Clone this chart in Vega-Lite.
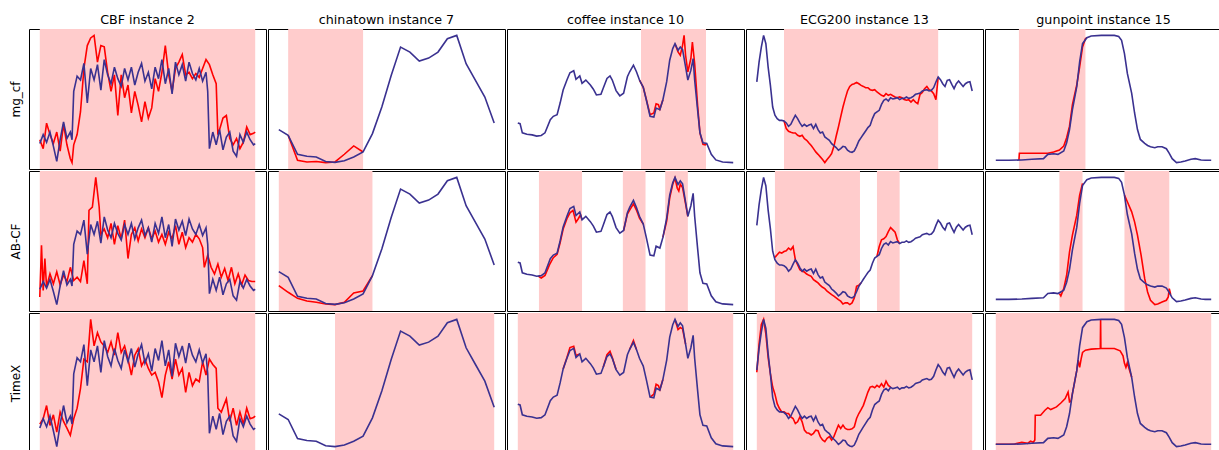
{
"$schema":"https://vega.github.io/schema/vega-lite/v6.json",
"padding":{"left":8,"top":13,"right":0,"bottom":0},
"background":"white",
"config":{"view":{"stroke":"#000","strokeWidth":1},"axis":{"labels":false,"ticks":false,"domain":false,"grid":false,"titleFont":"DejaVu Sans","titleFontSize":12,"titleFontWeight":"normal","titleColor":"#000","titlePadding":7},"title":{"font":"DejaVu Sans","fontSize":12.7,"fontWeight":"normal","color":"#000","offset":2}},
"datasets":{
"shade":[{"p":"cbf1","a":0,"b":127},{"p":"cbf2","a":0,"b":127},{"p":"cbf3","a":0,"b":127},{"p":"ct1","a":1,"b":9},{"p":"ct2","a":0,"b":10},{"p":"ct3","a":6,"b":23},{"p":"cf1","a":163,"b":249},{"p":"cf2","a":28,"b":85},{"p":"cf2","a":139,"b":169},{"p":"cf2","a":195,"b":225},{"p":"cf3","a":0,"b":285},{"p":"ecg1","a":12,"b":80},{"p":"ecg2","a":8,"b":45.5},{"p":"ecg2","a":53,"b":63},{"p":"ecg3","a":0,"b":95},{"p":"gp1","a":16,"b":62},{"p":"gp2","a":44,"b":60},{"p":"gp2","a":89,"b":120},{"p":"gp3","a":0,"b":149}],
"cbf_b":[{"t":0,"v":1.5},{"t":2,"v":2.2},{"t":4,"v":1.6},{"t":6,"v":2.4},{"t":8,"v":1.3},{"t":10,"v":0.1},{"t":12,"v":1.8},{"t":14,"v":3.2},{"t":16,"v":1.9},{"t":18,"v":2.4},{"t":19,"v":1.8},{"t":20,"v":5.6},{"t":22,"v":6.8},{"t":24,"v":6.5},{"t":26,"v":7.8},{"t":28,"v":4.7},{"t":30,"v":7.4},{"t":32,"v":6.5},{"t":34,"v":7.7},{"t":36,"v":5.7},{"t":38,"v":8.1},{"t":40,"v":6.9},{"t":42,"v":6.2},{"t":44,"v":7.5},{"t":46,"v":6.6},{"t":48,"v":6.0},{"t":50,"v":7.4},{"t":52,"v":6.5},{"t":54,"v":7.5},{"t":56,"v":6.1},{"t":58,"v":7.1},{"t":60,"v":7.8},{"t":62,"v":6.4},{"t":64,"v":7.1},{"t":66,"v":5.8},{"t":68,"v":7.5},{"t":70,"v":6.6},{"t":72,"v":8.1},{"t":74,"v":6.2},{"t":76,"v":7.4},{"t":78,"v":5.4},{"t":80,"v":7.9},{"t":82,"v":6.9},{"t":84,"v":7.7},{"t":86,"v":6.4},{"t":88,"v":7.9},{"t":90,"v":7.0},{"t":92,"v":6.5},{"t":94,"v":7.4},{"t":96,"v":6.4},{"t":98,"v":7.1},{"t":99,"v":5.6},{"t":100,"v":1.1},{"t":102,"v":2.4},{"t":104,"v":1.4},{"t":106,"v":2.6},{"t":108,"v":1.0},{"t":110,"v":2.0},{"t":112,"v":2.4},{"t":114,"v":0.9},{"t":116,"v":0.5},{"t":118,"v":2.2},{"t":120,"v":1.6},{"t":122,"v":2.4},{"t":124,"v":1.8},{"t":126,"v":1.4},{"t":127,"v":1.5}],
"cbf_r1":[{"t":0,"v":1.8},{"t":2,"v":1.1},{"t":4,"v":3.1},{"t":6,"v":2.2},{"t":8,"v":1.5},{"t":10,"v":2.4},{"t":12,"v":0.9},{"t":14,"v":3.0},{"t":16,"v":1.4},{"t":18,"v":0.3},{"t":19,"v":0.0},{"t":20,"v":1.4},{"t":22,"v":2.2},{"t":24,"v":4.0},{"t":26,"v":7.4},{"t":28,"v":9.2},{"t":30,"v":9.8},{"t":32,"v":10.0},{"t":34,"v":7.9},{"t":36,"v":9.2},{"t":38,"v":9.1},{"t":40,"v":7.1},{"t":42,"v":5.6},{"t":44,"v":6.9},{"t":46,"v":3.7},{"t":48,"v":6.9},{"t":50,"v":5.1},{"t":52,"v":6.1},{"t":54,"v":3.9},{"t":56,"v":5.6},{"t":58,"v":4.5},{"t":60,"v":3.2},{"t":62,"v":4.8},{"t":64,"v":3.5},{"t":66,"v":4.3},{"t":68,"v":6.6},{"t":70,"v":5.6},{"t":72,"v":7.1},{"t":74,"v":9.2},{"t":76,"v":6.9},{"t":78,"v":5.6},{"t":80,"v":7.4},{"t":82,"v":7.9},{"t":84,"v":8.5},{"t":86,"v":6.9},{"t":88,"v":7.1},{"t":90,"v":6.6},{"t":92,"v":7.0},{"t":94,"v":6.7},{"t":96,"v":7.4},{"t":98,"v":8.1},{"t":100,"v":7.7},{"t":102,"v":6.9},{"t":104,"v":6.2},{"t":105,"v":2.2},{"t":106,"v":2.6},{"t":108,"v":3.5},{"t":110,"v":3.7},{"t":112,"v":1.9},{"t":114,"v":1.4},{"t":116,"v":1.9},{"t":118,"v":1.1},{"t":120,"v":1.6},{"t":122,"v":2.8},{"t":124,"v":2.2},{"t":126,"v":2.3},{"t":127,"v":2.4}],
"cbf_r2":[{"t":0,"v":0.8},{"t":1,"v":5.5},{"t":2,"v":1.4},{"t":3,"v":4.3},{"t":4,"v":1.7},{"t":6,"v":2.9},{"t":8,"v":2.0},{"t":10,"v":3.1},{"t":12,"v":1.9},{"t":14,"v":2.8},{"t":16,"v":2.2},{"t":18,"v":3.5},{"t":20,"v":2.3},{"t":22,"v":2.6},{"t":24,"v":2.2},{"t":26,"v":4.1},{"t":28,"v":2.0},{"t":29,"v":8.7},{"t":31,"v":9.0},{"t":33,"v":11.7},{"t":35,"v":9.0},{"t":36,"v":6.5},{"t":38,"v":7.0},{"t":40,"v":6.2},{"t":42,"v":7.5},{"t":44,"v":5.6},{"t":46,"v":7.3},{"t":48,"v":6.1},{"t":50,"v":7.8},{"t":52,"v":4.3},{"t":54,"v":6.5},{"t":56,"v":7.1},{"t":58,"v":5.9},{"t":60,"v":7.0},{"t":62,"v":6.2},{"t":64,"v":7.1},{"t":66,"v":6.1},{"t":68,"v":6.8},{"t":70,"v":5.8},{"t":72,"v":6.5},{"t":74,"v":5.6},{"t":76,"v":6.7},{"t":78,"v":6.1},{"t":80,"v":7.3},{"t":82,"v":5.6},{"t":84,"v":6.7},{"t":86,"v":5.3},{"t":88,"v":6.2},{"t":90,"v":5.8},{"t":92,"v":6.5},{"t":94,"v":6.1},{"t":96,"v":5.3},{"t":97,"v":3.5},{"t":99,"v":4.6},{"t":101,"v":3.5},{"t":103,"v":2.9},{"t":105,"v":3.8},{"t":107,"v":2.6},{"t":109,"v":3.4},{"t":111,"v":2.3},{"t":113,"v":3.5},{"t":115,"v":2.0},{"t":117,"v":2.9},{"t":119,"v":1.9},{"t":121,"v":2.8},{"t":123,"v":2.3},{"t":125,"v":2.2},{"t":127,"v":2.2}],
"cbf_r3":[{"t":0,"v":1.8},{"t":2,"v":2.2},{"t":4,"v":3.2},{"t":6,"v":1.7},{"t":8,"v":2.5},{"t":10,"v":1.2},{"t":12,"v":2.7},{"t":14,"v":2.0},{"t":16,"v":1.5},{"t":18,"v":0.95},{"t":20,"v":2.2},{"t":22,"v":3.0},{"t":24,"v":4.5},{"t":26,"v":6.7},{"t":28,"v":6.5},{"t":29,"v":8.0},{"t":30,"v":9.7},{"t":32,"v":7.7},{"t":34,"v":8.7},{"t":36,"v":8.0},{"t":38,"v":7.7},{"t":40,"v":7.2},{"t":42,"v":8.0},{"t":44,"v":7.0},{"t":46,"v":8.7},{"t":48,"v":7.2},{"t":50,"v":7.7},{"t":52,"v":6.7},{"t":54,"v":5.5},{"t":56,"v":7.0},{"t":58,"v":7.5},{"t":60,"v":6.2},{"t":62,"v":6.7},{"t":64,"v":6.0},{"t":66,"v":5.5},{"t":68,"v":5.7},{"t":70,"v":5.0},{"t":72,"v":3.8},{"t":74,"v":5.5},{"t":76,"v":6.5},{"t":78,"v":5.2},{"t":80,"v":6.7},{"t":82,"v":5.5},{"t":84,"v":6.0},{"t":86,"v":4.2},{"t":88,"v":5.7},{"t":90,"v":4.7},{"t":92,"v":5.2},{"t":94,"v":5.0},{"t":96,"v":6.5},{"t":98,"v":5.5},{"t":100,"v":6.7},{"t":102,"v":6.3},{"t":104,"v":6.0},{"t":105,"v":3.0},{"t":107,"v":2.7},{"t":110,"v":3.7},{"t":112,"v":2.0},{"t":114,"v":3.0},{"t":116,"v":1.7},{"t":118,"v":2.7},{"t":120,"v":1.8},{"t":122,"v":3.0},{"t":124,"v":2.2},{"t":126,"v":2.3},{"t":127,"v":2.4}],
"ct_b":[{"t":0,"v":26.5},{"t":1,"v":22.1},{"t":2,"v":7.3},{"t":3,"v":5.7},{"t":4,"v":5.2},{"t":5,"v":1.6},{"t":6,"v":1.0},{"t":7,"v":2.3},{"t":8,"v":5.2},{"t":9,"v":9.1},{"t":10,"v":23.4},{"t":11,"v":44.2},{"t":12,"v":68.8},{"t":13,"v":90.9},{"t":14,"v":87.0},{"t":15,"v":80.0},{"t":16,"v":82.3},{"t":17,"v":87.0},{"t":18,"v":97.4},{"t":19,"v":100},{"t":20,"v":77.9},{"t":21,"v":64.9},{"t":22,"v":51.9},{"t":23,"v":31.7}],
"ct_r1":[{"t":1,"v":22.1},{"t":2,"v":2.6},{"t":3,"v":1.3},{"t":4,"v":1.6},{"t":5,"v":0.8},{"t":6,"v":1.3},{"t":7,"v":7.3},{"t":8,"v":13.8},{"t":9,"v":9.1}],
"ct_r2":[{"t":0,"v":15.6},{"t":1,"v":10.4},{"t":2,"v":5.7},{"t":3,"v":3.6},{"t":4,"v":2.6},{"t":5,"v":1.3},{"t":6,"v":0.8},{"t":7,"v":2.6},{"t":8,"v":9.9},{"t":9,"v":11.4},{"t":10,"v":23.4}],
"cf_b":[{"t":0,"v":31.2},{"t":3,"v":30.6},{"t":6,"v":23.4},{"t":12,"v":22.3},{"t":19,"v":21.8},{"t":25,"v":20.8},{"t":31,"v":21.3},{"t":36,"v":23.4},{"t":43,"v":33.8},{"t":47,"v":36.4},{"t":52,"v":37.7},{"t":56,"v":46.8},{"t":60,"v":57.1},{"t":65,"v":64.9},{"t":69,"v":70.6},{"t":74,"v":72.2},{"t":77,"v":65.5},{"t":82,"v":68.1},{"t":85,"v":62.3},{"t":90,"v":64.9},{"t":96,"v":61.0},{"t":100,"v":57.7},{"t":104,"v":53.2},{"t":110,"v":53.8},{"t":113,"v":58.4},{"t":118,"v":66.2},{"t":122,"v":68.1},{"t":125,"v":64.9},{"t":130,"v":56.6},{"t":135,"v":52.5},{"t":140,"v":54.5},{"t":145,"v":67.5},{"t":148,"v":71.4},{"t":153,"v":76.6},{"t":157,"v":71.4},{"t":161,"v":64.9},{"t":166,"v":59.2},{"t":170,"v":49.4},{"t":175,"v":36.4},{"t":180,"v":35.8},{"t":183,"v":42.9},{"t":188,"v":41.6},{"t":192,"v":49.4},{"t":197,"v":63.6},{"t":201,"v":80.5},{"t":205,"v":89.6},{"t":208,"v":93.5},{"t":212,"v":88.3},{"t":215,"v":90.9},{"t":218,"v":88.8},{"t":222,"v":75.3},{"t":225,"v":64.9},{"t":229,"v":72.7},{"t":232,"v":81.8},{"t":234,"v":64.9},{"t":238,"v":40.8},{"t":241,"v":23.4},{"t":245,"v":15.6},{"t":250,"v":15.1},{"t":256,"v":6.5},{"t":262,"v":2.1},{"t":271,"v":0.5},{"t":285,"v":0}],
"cf_r1":[{"g":"a","t":161,"v":64.9},{"g":"a","t":166,"v":59.2},{"g":"a","t":170,"v":49.9},{"g":"a","t":175,"v":37.7},{"g":"a","t":180,"v":39.0},{"g":"a","t":183,"v":46.2},{"g":"a","t":186,"v":45.5},{"g":"a","t":188,"v":42.1},{"g":"a","t":192,"v":49.4},{"g":"b","t":208,"v":93.5},{"g":"b","t":212,"v":87.0},{"g":"b","t":215,"v":84.4},{"g":"b","t":218,"v":92.2},{"g":"b","t":220,"v":100},{"g":"b","t":222,"v":84.4},{"g":"b","t":225,"v":71.4},{"g":"b","t":229,"v":81.8},{"g":"b","t":231,"v":94.8},{"g":"b","t":234,"v":77.9},{"g":"b","t":238,"v":44.2},{"g":"b","t":241,"v":23.4},{"g":"b","t":245,"v":14.3},{"g":"b","t":248,"v":14.0},{"g":"b","t":250,"v":15.1}],
"cf_r2":[{"g":"a","t":27,"v":20.9},{"g":"a","t":31,"v":19.6},{"g":"a","t":36,"v":21.5},{"g":"a","t":42,"v":29.4},{"g":"a","t":47,"v":34.5},{"g":"a","t":52,"v":36.9},{"g":"a","t":56,"v":45.5},{"g":"a","t":60,"v":55.6},{"g":"a","t":65,"v":63.1},{"g":"a","t":69,"v":67.5},{"g":"a","t":73,"v":69.3},{"g":"a","t":77,"v":60.6},{"g":"a","t":80,"v":63.1},{"g":"a","t":83,"v":66.0},{"g":"a","t":85,"v":62.3},{"g":"b","t":140,"v":54.5},{"g":"b","t":145,"v":66.5},{"g":"b","t":148,"v":69.5},{"g":"b","t":153,"v":74.0},{"g":"b","t":157,"v":69.5},{"g":"b","t":161,"v":63.5},{"g":"b","t":166,"v":59.2},{"g":"c","t":192,"v":49.4},{"g":"c","t":197,"v":61.5},{"g":"c","t":201,"v":78.5},{"g":"c","t":205,"v":88.5},{"g":"c","t":208,"v":93.0},{"g":"c","t":211,"v":85.5},{"g":"c","t":213,"v":83.5},{"g":"c","t":215,"v":88.5},{"g":"c","t":218,"v":86.0},{"g":"c","t":222,"v":74.0},{"g":"c","t":225,"v":64.9}],
"cf_r3":[{"g":"a","t":60,"v":57.1},{"g":"a","t":65,"v":65.5},{"g":"a","t":69,"v":72.8},{"g":"a","t":74,"v":73.8},{"g":"a","t":77,"v":67.0},{"g":"a","t":82,"v":68.1},{"g":"b","t":113,"v":58.4},{"g":"b","t":118,"v":67.5},{"g":"b","t":122,"v":70.0},{"g":"b","t":125,"v":65.5},{"g":"b","t":130,"v":56.6},{"g":"c","t":148,"v":71.4},{"g":"c","t":153,"v":78.0},{"g":"c","t":157,"v":71.4},{"g":"d","t":175,"v":36.4},{"g":"d","t":180,"v":38.5},{"g":"d","t":183,"v":45.8},{"g":"d","t":186,"v":44.8},{"g":"d","t":188,"v":42.0},{"g":"d","t":192,"v":49.4},{"g":"e","t":208,"v":93.5},{"g":"e","t":212,"v":86.0},{"g":"e","t":215,"v":87.5},{"g":"e","t":218,"v":86.5},{"g":"e","t":222,"v":75.3}],
"ecg_b":[{"t":0,"v":63.4},{"t":1,"v":79},{"t":2,"v":90.8},{"t":3,"v":100},{"t":4,"v":93.5},{"t":5,"v":75.1},{"t":6,"v":60.7},{"t":7,"v":43.7},{"t":8,"v":37.2},{"t":9,"v":34.6},{"t":10,"v":33.2},{"t":11,"v":33.2},{"t":12,"v":32.7},{"t":13,"v":31.2},{"t":14,"v":28.5},{"t":15,"v":30.1},{"t":16,"v":33.8},{"t":17,"v":37.2},{"t":18,"v":34.6},{"t":19,"v":31.2},{"t":20,"v":28.5},{"t":21,"v":30.1},{"t":22,"v":28.5},{"t":23,"v":29.6},{"t":24,"v":30.1},{"t":25,"v":26.7},{"t":26,"v":30.1},{"t":27,"v":25.9},{"t":28,"v":23.3},{"t":29,"v":24.1},{"t":30,"v":20.2},{"t":31,"v":18.8},{"t":32,"v":17.5},{"t":33,"v":14.9},{"t":34,"v":13.4},{"t":35,"v":11.8},{"t":36,"v":9.7},{"t":37,"v":11.0},{"t":38,"v":12.8},{"t":39,"v":12.3},{"t":40,"v":9.7},{"t":41,"v":8.6},{"t":42,"v":8.1},{"t":43,"v":9.2},{"t":44,"v":12.8},{"t":45,"v":17.0},{"t":46,"v":19.6},{"t":47,"v":22.3},{"t":48,"v":24.9},{"t":49,"v":27.5},{"t":50,"v":29.3},{"t":51,"v":34.6},{"t":52,"v":38.5},{"t":53,"v":39.8},{"t":54,"v":41.1},{"t":55,"v":45.8},{"t":56,"v":49.0},{"t":57,"v":50.0},{"t":58,"v":48.4},{"t":59,"v":51.0},{"t":60,"v":50.0},{"t":61,"v":50.5},{"t":62,"v":51.0},{"t":63,"v":49.5},{"t":64,"v":50.5},{"t":65,"v":50.5},{"t":66,"v":51.6},{"t":67,"v":50.5},{"t":68,"v":51.0},{"t":69,"v":52.1},{"t":70,"v":53.7},{"t":71,"v":54.2},{"t":72,"v":54.7},{"t":73,"v":56.3},{"t":74,"v":56.8},{"t":75,"v":57.3},{"t":76,"v":56.3},{"t":77,"v":56.8},{"t":78,"v":58.9},{"t":79,"v":63.4},{"t":80,"v":67.3},{"t":81,"v":65.2},{"t":82,"v":62.0},{"t":83,"v":59.9},{"t":84,"v":64.7},{"t":85,"v":65.2},{"t":86,"v":61.5},{"t":87,"v":58.1},{"t":88,"v":62.0},{"t":89,"v":64.1},{"t":90,"v":62.0},{"t":91,"v":59.9},{"t":92,"v":62.0},{"t":93,"v":63.1},{"t":94,"v":63.6},{"t":95,"v":56.3}],
"ecg_r1":[{"t":12,"v":32.7},{"t":13,"v":26.7},{"t":14,"v":24.6},{"t":15,"v":23.8},{"t":16,"v":23.3},{"t":17,"v":23.3},{"t":18,"v":21.5},{"t":19,"v":20.7},{"t":20,"v":21.5},{"t":21,"v":18.8},{"t":22,"v":17.5},{"t":23,"v":15.4},{"t":24,"v":13.4},{"t":25,"v":11.0},{"t":26,"v":8.4},{"t":27,"v":6.5},{"t":28,"v":4.5},{"t":29,"v":2.4},{"t":30,"v":0},{"t":31,"v":2.4},{"t":32,"v":4.5},{"t":33,"v":7.1},{"t":34,"v":12.8},{"t":35,"v":20.7},{"t":36,"v":28.0},{"t":37,"v":35.9},{"t":38,"v":43.7},{"t":39,"v":50.3},{"t":40,"v":56.3},{"t":41,"v":59.9},{"t":42,"v":61.5},{"t":43,"v":62.0},{"t":44,"v":63.1},{"t":45,"v":62.0},{"t":46,"v":60.7},{"t":47,"v":59.9},{"t":48,"v":58.9},{"t":49,"v":58.9},{"t":50,"v":57.3},{"t":51,"v":56.8},{"t":52,"v":57.3},{"t":53,"v":55.5},{"t":54,"v":54.2},{"t":55,"v":52.9},{"t":56,"v":52.1},{"t":57,"v":54.2},{"t":58,"v":52.9},{"t":59,"v":53.7},{"t":60,"v":52.6},{"t":61,"v":51.6},{"t":62,"v":51.0},{"t":63,"v":51.6},{"t":64,"v":51.0},{"t":65,"v":49.5},{"t":66,"v":49.0},{"t":67,"v":49.5},{"t":68,"v":47.6},{"t":69,"v":49.5},{"t":70,"v":47.6},{"t":71,"v":46.3},{"t":72,"v":53.7},{"t":73,"v":55.2},{"t":74,"v":58.1},{"t":75,"v":59.9},{"t":76,"v":57.3},{"t":77,"v":56.3},{"t":78,"v":54.2},{"t":79,"v":49.5},{"t":80,"v":67.3}],
"ecg_r2":[{"g":"a","t":8,"v":39.0},{"g":"a","t":9,"v":41.0},{"g":"a","t":10,"v":43.0},{"g":"a","t":11,"v":42.3},{"g":"a","t":12,"v":43.5},{"g":"a","t":13,"v":44.1},{"g":"a","t":14,"v":46.1},{"g":"a","t":15,"v":44.8},{"g":"a","t":16,"v":47.3},{"g":"a","t":17,"v":37.2},{"g":"a","t":18,"v":33.4},{"g":"a","t":19,"v":29.6},{"g":"a","t":20,"v":28.4},{"g":"a","t":21,"v":27.8},{"g":"a","t":22,"v":26.3},{"g":"a","t":23,"v":25.3},{"g":"a","t":24,"v":24.6},{"g":"a","t":25,"v":22.0},{"g":"a","t":26,"v":20.8},{"g":"a","t":27,"v":19.5},{"g":"a","t":28,"v":17.7},{"g":"a","t":29,"v":16.2},{"g":"a","t":30,"v":15.2},{"g":"a","t":31,"v":13.2},{"g":"a","t":32,"v":11.9},{"g":"a","t":33,"v":10.6},{"g":"a","t":34,"v":9.4},{"g":"a","t":35,"v":8.1},{"g":"a","t":36,"v":6.8},{"g":"a","t":37,"v":5.6},{"g":"a","t":38,"v":3.5},{"g":"a","t":39,"v":4.3},{"g":"a","t":40,"v":4.3},{"g":"a","t":41,"v":3.0},{"g":"a","t":42,"v":4.3},{"g":"a","t":43,"v":8.1},{"g":"a","t":44,"v":17.0},{"g":"a","t":45,"v":17.7},{"g":"a","t":46,"v":19.6},{"g":"b","t":53,"v":39.8},{"g":"b","t":54,"v":47.3},{"g":"b","t":55,"v":52.4},{"g":"b","t":56,"v":53.2},{"g":"b","t":57,"v":54.9},{"g":"b","t":58,"v":58.7},{"g":"b","t":59,"v":61.8},{"g":"b","t":60,"v":60.0},{"g":"b","t":61,"v":58.2},{"g":"b","t":62,"v":52.4},{"g":"b","t":63,"v":49.5}],
"ecg_r3":[{"t":0,"v":61.8},{"t":1,"v":82.1},{"t":2,"v":96.4},{"t":3,"v":100},{"t":4,"v":89.3},{"t":5,"v":72.6},{"t":6,"v":60.6},{"t":7,"v":51.1},{"t":8,"v":46.0},{"t":9,"v":39.1},{"t":10,"v":35.6},{"t":11,"v":33.2},{"t":12,"v":33.2},{"t":13,"v":32.0},{"t":14,"v":32.0},{"t":15,"v":29.6},{"t":16,"v":28.4},{"t":17,"v":24.8},{"t":18,"v":26.0},{"t":19,"v":29.6},{"t":20,"v":26.0},{"t":21,"v":20.0},{"t":22,"v":18.1},{"t":23,"v":17.7},{"t":24,"v":16.5},{"t":25,"v":17.7},{"t":26,"v":20.0},{"t":27,"v":19.6},{"t":28,"v":15.3},{"t":29,"v":12.9},{"t":30,"v":11.7},{"t":31,"v":14.1},{"t":32,"v":15.3},{"t":33,"v":12.9},{"t":34,"v":15.3},{"t":35,"v":19.6},{"t":36,"v":23.6},{"t":37,"v":21.2},{"t":38,"v":23.6},{"t":39,"v":21.2},{"t":40,"v":20.5},{"t":41,"v":20.5},{"t":42,"v":21.0},{"t":43,"v":22.4},{"t":44,"v":28.4},{"t":45,"v":32.0},{"t":46,"v":34.8},{"t":47,"v":37.9},{"t":48,"v":42.7},{"t":49,"v":47.5},{"t":50,"v":51.1},{"t":51,"v":51.6},{"t":52,"v":50.6},{"t":53,"v":52.3},{"t":54,"v":51.1},{"t":55,"v":53.5},{"t":56,"v":51.1},{"t":57,"v":55.4},{"t":58,"v":52.3},{"t":59,"v":51.0}],
"gp_b":[{"t":0,"v":1.8},{"t":9,"v":1.8},{"t":18,"v":2.1},{"t":25,"v":2.6},{"t":33,"v":3.1},{"t":36,"v":6.5},{"t":40,"v":7.0},{"t":43,"v":6.5},{"t":47,"v":9.1},{"t":49,"v":15.6},{"t":51,"v":26.0},{"t":53,"v":41.6},{"t":56,"v":59.7},{"t":58,"v":79.2},{"t":60,"v":93.5},{"t":63,"v":98.2},{"t":66,"v":99.5},{"t":73,"v":100},{"t":82,"v":100},{"t":85,"v":99.2},{"t":87,"v":96.1},{"t":89,"v":85.7},{"t":91,"v":70.1},{"t":94,"v":54.5},{"t":96,"v":39.0},{"t":98,"v":26.0},{"t":100,"v":18.2},{"t":103,"v":15.1},{"t":105,"v":13.5},{"t":107,"v":12.5},{"t":110,"v":11.7},{"t":112,"v":12.5},{"t":115,"v":12.5},{"t":118,"v":10.9},{"t":120,"v":7.3},{"t":122,"v":3.1},{"t":125,"v":0},{"t":128,"v":0.5},{"t":131,"v":1.3},{"t":135,"v":2.6},{"t":138,"v":3.1},{"t":142,"v":2.1},{"t":145,"v":1.8},{"t":149,"v":1.8}],
"gp_r1":[{"t":16,"v":2.1},{"t":16.3,"v":7.3},{"t":36,"v":7.3},{"t":40,"v":8.3},{"t":44,"v":9.9},{"t":47,"v":13.0},{"t":49,"v":19.5},{"t":51,"v":28.6},{"t":53,"v":45.5},{"t":56,"v":61.0},{"t":58,"v":75.3},{"t":60,"v":90.9},{"t":62,"v":97.4},{"t":63,"v":98.2}],
"gp_r2":[{"g":"a","t":44,"v":6.5},{"g":"a","t":45,"v":4.6},{"g":"a","t":47,"v":10.5},{"g":"a","t":49,"v":21.2},{"g":"a","t":51,"v":40.1},{"g":"a","t":53,"v":53.5},{"g":"a","t":56,"v":69.6},{"g":"a","t":58,"v":85.8},{"g":"a","t":60,"v":95.2},{"g":"b","t":89,"v":85.7},{"g":"b","t":91,"v":80.4},{"g":"b","t":94,"v":72.3},{"g":"b","t":96,"v":64.2},{"g":"b","t":98,"v":53.5},{"g":"b","t":100.5,"v":37.4},{"g":"b","t":103,"v":18.5},{"g":"b","t":105,"v":7.8},{"g":"b","t":107,"v":1.1},{"g":"b","t":110,"v":-2.4},{"g":"b","t":112,"v":-1.9},{"g":"b","t":115,"v":-0.3},{"g":"b","t":118,"v":1.1},{"g":"b","t":119.3,"v":3.8},{"g":"b","t":120,"v":10.5},{"g":"b","t":121,"v":5.5}],
"gp_r3":[{"t":0,"v":1.8},{"t":13,"v":2.1},{"t":18,"v":3.4},{"t":22,"v":2.6},{"t":24,"v":4.2},{"t":26,"v":3.4},{"t":27,"v":5.2},{"t":27.3,"v":24.7},{"t":31,"v":24.7},{"t":34,"v":28.6},{"t":36,"v":30.6},{"t":38,"v":29.1},{"t":42,"v":31.2},{"t":45,"v":34.3},{"t":48,"v":37.7},{"t":50,"v":42.9},{"t":51,"v":35.1},{"t":52,"v":35.5},{"t":53,"v":41.6},{"t":56,"v":59.7},{"t":57,"v":68},{"t":58,"v":62.3},{"t":59,"v":68.8},{"t":60,"v":74.0},{"t":62,"v":75.8},{"t":66,"v":76.6},{"t":72.3,"v":77.1},{"t":72.5,"v":100},{"t":72.7,"v":77.1},{"t":82,"v":77.1},{"t":86,"v":75.3},{"t":88,"v":71.4},{"t":89,"v":65.5},{"t":90,"v":62.3},{"t":91,"v":66.0},{"t":92,"v":62.0},{"t":94,"v":54.5}]
},
"vconcat":[
{"hconcat":[
{"width":237,"height":140,"title":"CBF instance 2","layer":[
{"data":{"name":"shade"},"transform":[{"filter":"datum.p=='cbf1'"}],"mark":{"type":"rect","color":"#ffcccc"},"encoding":{"x":{"field":"a","type":"quantitative","scale":{"zero":false,"nice":false,"padding":10.8},"axis":null},"x2":{"field":"b"}}},
{"data":{"name":"cbf_r1"},"mark":{"type":"line","color":"#ff0000","strokeWidth":1.6},"encoding":{"x":{"field":"t","type":"quantitative","axis":null},"y":{"field":"v","type":"quantitative","scale":{"zero":false,"nice":false,"padding":6.4},"axis":{"title":"mg_cf"}},"detail":{"field":"g"}}},
{"data":{"name":"cbf_b"},"mark":{"type":"line","color":"#3a3190","strokeWidth":1.6},"encoding":{"x":{"field":"t","type":"quantitative","axis":null},"y":{"field":"v","type":"quantitative","scale":{"zero":false,"nice":false,"padding":6.4},"axis":{"title":"mg_cf"}}}}]},
{"width":237,"height":140,"title":"chinatown instance 7","layer":[
{"data":{"name":"shade"},"transform":[{"filter":"datum.p=='ct1'"}],"mark":{"type":"rect","color":"#ffcccc"},"encoding":{"x":{"field":"a","type":"quantitative","scale":{"zero":false,"nice":false,"padding":10.8},"axis":null},"x2":{"field":"b"}}},
{"data":{"name":"ct_r1"},"mark":{"type":"line","color":"#ff0000","strokeWidth":1.6},"encoding":{"x":{"field":"t","type":"quantitative","axis":null},"y":{"field":"v","type":"quantitative","scale":{"zero":false,"nice":false,"padding":6.4},"axis":null},"detail":{"field":"g"}}},
{"data":{"name":"ct_b"},"mark":{"type":"line","color":"#3a3190","strokeWidth":1.6},"encoding":{"x":{"field":"t","type":"quantitative","axis":null},"y":{"field":"v","type":"quantitative","scale":{"zero":false,"nice":false,"padding":6.4},"axis":null}}}]},
{"width":237,"height":140,"title":"coffee instance 10","layer":[
{"data":{"name":"shade"},"transform":[{"filter":"datum.p=='cf1'"}],"mark":{"type":"rect","color":"#ffcccc"},"encoding":{"x":{"field":"a","type":"quantitative","scale":{"zero":false,"nice":false,"padding":10.8},"axis":null},"x2":{"field":"b"}}},
{"data":{"name":"cf_r1"},"mark":{"type":"line","color":"#ff0000","strokeWidth":1.6},"encoding":{"x":{"field":"t","type":"quantitative","axis":null},"y":{"field":"v","type":"quantitative","scale":{"zero":false,"nice":false,"padding":6.4},"axis":null},"detail":{"field":"g"}}},
{"data":{"name":"cf_b"},"mark":{"type":"line","color":"#3a3190","strokeWidth":1.6},"encoding":{"x":{"field":"t","type":"quantitative","axis":null},"y":{"field":"v","type":"quantitative","scale":{"zero":false,"nice":false,"padding":6.4},"axis":null}}}]},
{"width":237,"height":140,"title":"ECG200 instance 13","layer":[
{"data":{"name":"shade"},"transform":[{"filter":"datum.p=='ecg1'"}],"mark":{"type":"rect","color":"#ffcccc"},"encoding":{"x":{"field":"a","type":"quantitative","scale":{"zero":false,"nice":false,"padding":10.8},"axis":null},"x2":{"field":"b"}}},
{"data":{"name":"ecg_r1"},"mark":{"type":"line","color":"#ff0000","strokeWidth":1.6},"encoding":{"x":{"field":"t","type":"quantitative","axis":null},"y":{"field":"v","type":"quantitative","scale":{"zero":false,"nice":false,"padding":6.4},"axis":null},"detail":{"field":"g"}}},
{"data":{"name":"ecg_b"},"mark":{"type":"line","color":"#3a3190","strokeWidth":1.6},"encoding":{"x":{"field":"t","type":"quantitative","axis":null},"y":{"field":"v","type":"quantitative","scale":{"zero":false,"nice":false,"padding":6.4},"axis":null}}}]},
{"width":237,"height":140,"title":"gunpoint instance 15","layer":[
{"data":{"name":"shade"},"transform":[{"filter":"datum.p=='gp1'"}],"mark":{"type":"rect","color":"#ffcccc"},"encoding":{"x":{"field":"a","type":"quantitative","scale":{"zero":false,"nice":false,"padding":10.8},"axis":null},"x2":{"field":"b"}}},
{"data":{"name":"gp_r1"},"mark":{"type":"line","color":"#ff0000","strokeWidth":1.6},"encoding":{"x":{"field":"t","type":"quantitative","axis":null},"y":{"field":"v","type":"quantitative","scale":{"zero":false,"nice":false,"padding":6.4},"axis":null},"detail":{"field":"g"}}},
{"data":{"name":"gp_b"},"mark":{"type":"line","color":"#3a3190","strokeWidth":1.6},"encoding":{"x":{"field":"t","type":"quantitative","axis":null},"y":{"field":"v","type":"quantitative","scale":{"zero":false,"nice":false,"padding":6.4},"axis":null}}}]}
],"spacing":0},
{"hconcat":[
{"width":237,"height":140,"layer":[
{"data":{"name":"shade"},"transform":[{"filter":"datum.p=='cbf2'"}],"mark":{"type":"rect","color":"#ffcccc"},"encoding":{"x":{"field":"a","type":"quantitative","scale":{"zero":false,"nice":false,"padding":10.8},"axis":null},"x2":{"field":"b"}}},
{"data":{"name":"cbf_r2"},"mark":{"type":"line","color":"#ff0000","strokeWidth":1.6},"encoding":{"x":{"field":"t","type":"quantitative","axis":null},"y":{"field":"v","type":"quantitative","scale":{"zero":false,"nice":false,"padding":6.4},"axis":{"title":"AB-CF"}},"detail":{"field":"g"}}},
{"data":{"name":"cbf_b"},"mark":{"type":"line","color":"#3a3190","strokeWidth":1.6},"encoding":{"x":{"field":"t","type":"quantitative","axis":null},"y":{"field":"v","type":"quantitative","scale":{"zero":false,"nice":false,"padding":6.4},"axis":{"title":"AB-CF"}}}}]},
{"width":237,"height":140,"layer":[
{"data":{"name":"shade"},"transform":[{"filter":"datum.p=='ct2'"}],"mark":{"type":"rect","color":"#ffcccc"},"encoding":{"x":{"field":"a","type":"quantitative","scale":{"zero":false,"nice":false,"padding":10.8},"axis":null},"x2":{"field":"b"}}},
{"data":{"name":"ct_r2"},"mark":{"type":"line","color":"#ff0000","strokeWidth":1.6},"encoding":{"x":{"field":"t","type":"quantitative","axis":null},"y":{"field":"v","type":"quantitative","scale":{"zero":false,"nice":false,"padding":6.4},"axis":null},"detail":{"field":"g"}}},
{"data":{"name":"ct_b"},"mark":{"type":"line","color":"#3a3190","strokeWidth":1.6},"encoding":{"x":{"field":"t","type":"quantitative","axis":null},"y":{"field":"v","type":"quantitative","scale":{"zero":false,"nice":false,"padding":6.4},"axis":null}}}]},
{"width":237,"height":140,"layer":[
{"data":{"name":"shade"},"transform":[{"filter":"datum.p=='cf2'"}],"mark":{"type":"rect","color":"#ffcccc"},"encoding":{"x":{"field":"a","type":"quantitative","scale":{"zero":false,"nice":false,"padding":10.8},"axis":null},"x2":{"field":"b"}}},
{"data":{"name":"cf_r2"},"mark":{"type":"line","color":"#ff0000","strokeWidth":1.6},"encoding":{"x":{"field":"t","type":"quantitative","axis":null},"y":{"field":"v","type":"quantitative","scale":{"zero":false,"nice":false,"padding":6.4},"axis":null},"detail":{"field":"g"}}},
{"data":{"name":"cf_b"},"mark":{"type":"line","color":"#3a3190","strokeWidth":1.6},"encoding":{"x":{"field":"t","type":"quantitative","axis":null},"y":{"field":"v","type":"quantitative","scale":{"zero":false,"nice":false,"padding":6.4},"axis":null}}}]},
{"width":237,"height":140,"layer":[
{"data":{"name":"shade"},"transform":[{"filter":"datum.p=='ecg2'"}],"mark":{"type":"rect","color":"#ffcccc"},"encoding":{"x":{"field":"a","type":"quantitative","scale":{"zero":false,"nice":false,"padding":10.8},"axis":null},"x2":{"field":"b"}}},
{"data":{"name":"ecg_r2"},"mark":{"type":"line","color":"#ff0000","strokeWidth":1.6},"encoding":{"x":{"field":"t","type":"quantitative","axis":null},"y":{"field":"v","type":"quantitative","scale":{"zero":false,"nice":false,"padding":6.4},"axis":null},"detail":{"field":"g"}}},
{"data":{"name":"ecg_b"},"mark":{"type":"line","color":"#3a3190","strokeWidth":1.6},"encoding":{"x":{"field":"t","type":"quantitative","axis":null},"y":{"field":"v","type":"quantitative","scale":{"zero":false,"nice":false,"padding":6.4},"axis":null}}}]},
{"width":237,"height":140,"layer":[
{"data":{"name":"shade"},"transform":[{"filter":"datum.p=='gp2'"}],"mark":{"type":"rect","color":"#ffcccc"},"encoding":{"x":{"field":"a","type":"quantitative","scale":{"zero":false,"nice":false,"padding":10.8},"axis":null},"x2":{"field":"b"}}},
{"data":{"name":"gp_r2"},"mark":{"type":"line","color":"#ff0000","strokeWidth":1.6},"encoding":{"x":{"field":"t","type":"quantitative","axis":null},"y":{"field":"v","type":"quantitative","scale":{"zero":false,"nice":false,"padding":6.4},"axis":null},"detail":{"field":"g"}}},
{"data":{"name":"gp_b"},"mark":{"type":"line","color":"#3a3190","strokeWidth":1.6},"encoding":{"x":{"field":"t","type":"quantitative","axis":null},"y":{"field":"v","type":"quantitative","scale":{"zero":false,"nice":false,"padding":6.4},"axis":null}}}]}
],"spacing":0},
{"hconcat":[
{"width":237,"height":140,"layer":[
{"data":{"name":"shade"},"transform":[{"filter":"datum.p=='cbf3'"}],"mark":{"type":"rect","color":"#ffcccc"},"encoding":{"x":{"field":"a","type":"quantitative","scale":{"zero":false,"nice":false,"padding":10.8},"axis":null},"x2":{"field":"b"}}},
{"data":{"name":"cbf_r3"},"mark":{"type":"line","color":"#ff0000","strokeWidth":1.6},"encoding":{"x":{"field":"t","type":"quantitative","axis":null},"y":{"field":"v","type":"quantitative","scale":{"zero":false,"nice":false,"padding":6.4},"axis":{"title":"TimeX"}},"detail":{"field":"g"}}},
{"data":{"name":"cbf_b"},"mark":{"type":"line","color":"#3a3190","strokeWidth":1.6},"encoding":{"x":{"field":"t","type":"quantitative","axis":null},"y":{"field":"v","type":"quantitative","scale":{"zero":false,"nice":false,"padding":6.4},"axis":{"title":"TimeX"}}}}]},
{"width":237,"height":140,"layer":[
{"data":{"name":"shade"},"transform":[{"filter":"datum.p=='ct3'"}],"mark":{"type":"rect","color":"#ffcccc"},"encoding":{"x":{"field":"a","type":"quantitative","scale":{"zero":false,"nice":false,"padding":10.8},"axis":null},"x2":{"field":"b"}}},
{"data":{"name":"ct_b"},"mark":{"type":"line","color":"#3a3190","strokeWidth":1.6},"encoding":{"x":{"field":"t","type":"quantitative","axis":null},"y":{"field":"v","type":"quantitative","scale":{"zero":false,"nice":false,"padding":6.4},"axis":null}}}]},
{"width":237,"height":140,"layer":[
{"data":{"name":"shade"},"transform":[{"filter":"datum.p=='cf3'"}],"mark":{"type":"rect","color":"#ffcccc"},"encoding":{"x":{"field":"a","type":"quantitative","scale":{"zero":false,"nice":false,"padding":10.8},"axis":null},"x2":{"field":"b"}}},
{"data":{"name":"cf_r3"},"mark":{"type":"line","color":"#ff0000","strokeWidth":1.6},"encoding":{"x":{"field":"t","type":"quantitative","axis":null},"y":{"field":"v","type":"quantitative","scale":{"zero":false,"nice":false,"padding":6.4},"axis":null},"detail":{"field":"g"}}},
{"data":{"name":"cf_b"},"mark":{"type":"line","color":"#3a3190","strokeWidth":1.6},"encoding":{"x":{"field":"t","type":"quantitative","axis":null},"y":{"field":"v","type":"quantitative","scale":{"zero":false,"nice":false,"padding":6.4},"axis":null}}}]},
{"width":237,"height":140,"layer":[
{"data":{"name":"shade"},"transform":[{"filter":"datum.p=='ecg3'"}],"mark":{"type":"rect","color":"#ffcccc"},"encoding":{"x":{"field":"a","type":"quantitative","scale":{"zero":false,"nice":false,"padding":10.8},"axis":null},"x2":{"field":"b"}}},
{"data":{"name":"ecg_r3"},"mark":{"type":"line","color":"#ff0000","strokeWidth":1.6},"encoding":{"x":{"field":"t","type":"quantitative","axis":null},"y":{"field":"v","type":"quantitative","scale":{"zero":false,"nice":false,"padding":6.4},"axis":null},"detail":{"field":"g"}}},
{"data":{"name":"ecg_b"},"mark":{"type":"line","color":"#3a3190","strokeWidth":1.6},"encoding":{"x":{"field":"t","type":"quantitative","axis":null},"y":{"field":"v","type":"quantitative","scale":{"zero":false,"nice":false,"padding":6.4},"axis":null}}}]},
{"width":237,"height":140,"layer":[
{"data":{"name":"shade"},"transform":[{"filter":"datum.p=='gp3'"}],"mark":{"type":"rect","color":"#ffcccc"},"encoding":{"x":{"field":"a","type":"quantitative","scale":{"zero":false,"nice":false,"padding":10.8},"axis":null},"x2":{"field":"b"}}},
{"data":{"name":"gp_r3"},"mark":{"type":"line","color":"#ff0000","strokeWidth":1.6},"encoding":{"x":{"field":"t","type":"quantitative","axis":null},"y":{"field":"v","type":"quantitative","scale":{"zero":false,"nice":false,"padding":6.4},"axis":null},"detail":{"field":"g"}}},
{"data":{"name":"gp_b"},"mark":{"type":"line","color":"#3a3190","strokeWidth":1.6},"encoding":{"x":{"field":"t","type":"quantitative","axis":null},"y":{"field":"v","type":"quantitative","scale":{"zero":false,"nice":false,"padding":6.4},"axis":null}}}]}
],"spacing":0}
],"spacing":0
}
